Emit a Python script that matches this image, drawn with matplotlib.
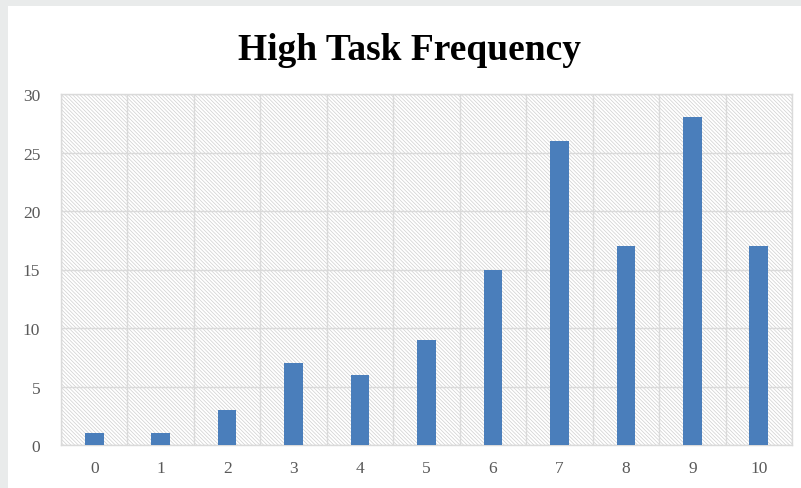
import matplotlib
matplotlib.use('Agg')
import matplotlib.pyplot as plt
from matplotlib.patches import Rectangle
import numpy as np

# data
scores = ['0', '1', '2', '3', '4', '5', '6', '7', '8', '9', '10']
counts = [1, 1, 3, 7, 6, 9, 15, 26, 17, 28, 17]
yticks = [0, 5, 10, 15, 20, 25, 30]

plt.rcParams['hatch.color'] = '#cfcfcf'
plt.rcParams['hatch.linewidth'] = 0.5

fig = plt.figure(figsize=(8.01, 4.89), dpi=100)
W, H = 801, 489

# grey frame of the screenshot (left and top)
fig.patches.append(Rectangle((0, 0), 8 / W, 1, transform=fig.transFigure,
                             facecolor='#e9ebeb', edgecolor='none', zorder=0))
fig.patches.append(Rectangle((0, 1 - 7 / H), 1, 7 / H, transform=fig.transFigure,
                             facecolor='#e9ebeb', edgecolor='none', zorder=0))

ax = fig.add_axes([61 / W, (H - 446) / H, (792 - 61) / W, (446 - 95) / H])
x = np.arange(len(scores))

# hatched background of the plot area
ax.add_patch(Rectangle((0, 0), 1, 1, transform=ax.transAxes, facecolor='white',
                       edgecolor='#cfcfcf', hatch='\\' * 9, linewidth=0, zorder=0))

ax.bar(x, counts, width=0.28, color='#4a7ebb', zorder=3)

ax.set_xlim(-0.5, len(scores) - 0.5)
ax.set_ylim(0, 30)
ax.set_yticks(yticks)
ax.set_xticks(x)
ax.set_xticklabels(scores)

# category boundaries and value grid
for b in np.arange(-0.5, len(scores), 1.0):
    ax.axvline(b, color='#dadada', lw=1, zorder=1)
for t in yticks:
    ax.axhline(t, color='#dadada', lw=1, zorder=1)

for s in ax.spines.values():
    s.set_color('#dadada')
    s.set_linewidth(1)

ax.tick_params(length=0, labelsize=12.5, labelcolor='#595959')
ax.tick_params(axis='y', pad=15)
ax.tick_params(axis='x', pad=11)
for lab in ax.get_xticklabels() + ax.get_yticklabels():
    lab.set_fontfamily('Liberation Serif')

fig.text(409 / W, (H - 60) / H, 'High Task Frequency', ha='center', va='baseline',
         fontsize=27, fontweight='bold', family='Liberation Serif', color='black')

fig.savefig('out.png', dpi=100)
